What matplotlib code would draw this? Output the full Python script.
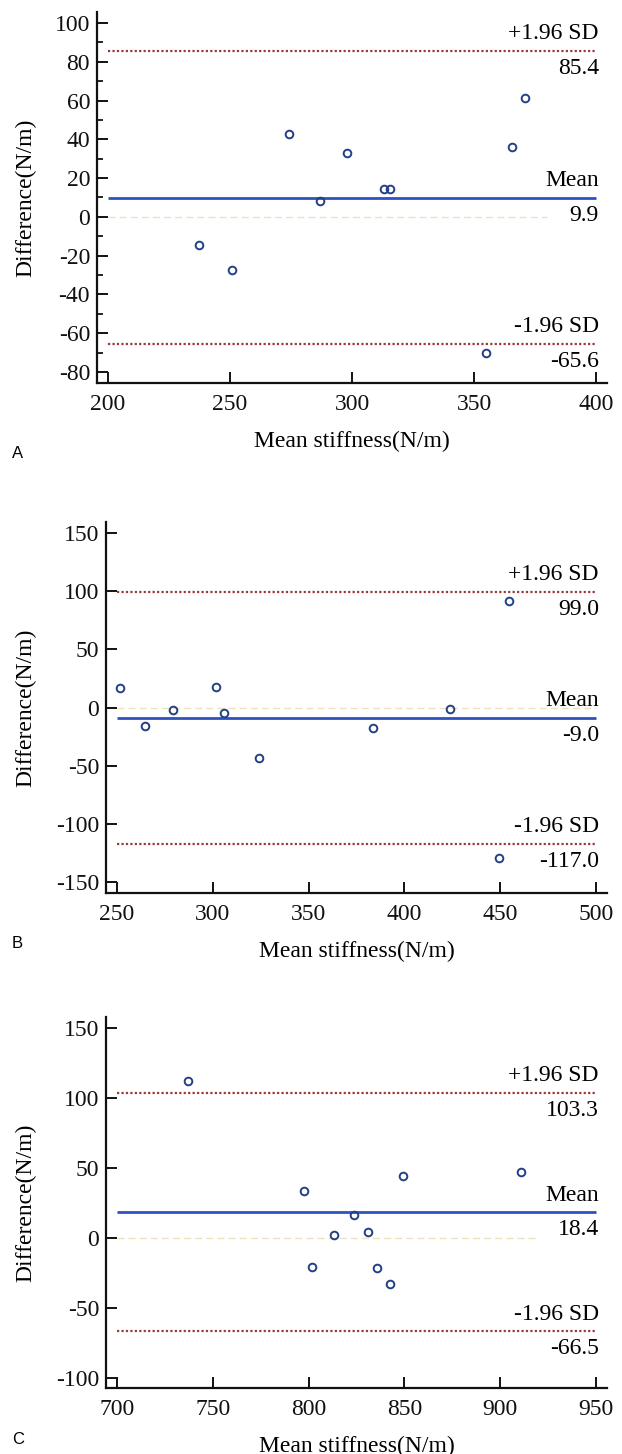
import matplotlib.pyplot as plt
import numpy as np

# panel A
a_mean_x = [237.1, 250.9, 274.1, 286.7, 298.0, 313.3, 315.4, 355.0, 365.5, 371.1]
a_diff = [-14.6, -27.2, 42.9, 8.1, 33.1, 14.6, 14.6, -70.1, 36.2, 61.3]
a_stats = [85.4, 9.9, -65.6]
a_xticks = [200, 250, 300, 350, 400]
a_yticks = [-80, -60, -40, -20, 0, 20, 40, 60, 80, 100]

# panel B
b_mean_x = [251.7, 264.9, 279.3, 301.9, 305.8, 323.9, 383.4, 423.9, 454.4, 449.4]
b_diff = [16.9, -15.8, -2.0, 17.8, -4.9, -43.0, -17.5, -1.4, 91.8, -129.3]
b_stats = [99.0, -9.0, -117.0]
b_xticks = [250, 300, 350, 400, 450, 500]
b_yticks = [-150, -100, -50, 0, 50, 100, 150]

# panel C
c_mean_x = [737.1, 797.7, 801.7, 813.3, 823.9, 830.9, 835.5, 842.7, 849.2, 910.6]
c_diff = [112.4, 34.0, -20.8, 2.5, 16.5, 4.8, -21.2, -32.6, 44.2, 47.0]
c_stats = [103.3, 18.4, -66.5]
c_xticks = [700, 750, 800, 850, 900, 950]
c_yticks = [-100, -50, 0, 50, 100, 150]

panels = [
    ("A", a_mean_x, a_diff, a_stats, a_xticks, a_yticks, 380, (195.5, 404.5), (-85.7, 105.7), 10),
    ("B", b_mean_x, b_diff, b_stats, b_xticks, b_yticks, 500, (244.3, 505.7), (-159.5, 159.5), None),
    ("C", c_mean_x, c_diff, c_stats, c_xticks, c_yticks, 920, (694.3, 955.7), (-106.8, 157.8), None),
]

# axes boxes in pixels: left, top, bottom, letter y
boxes = [(97, 12, 383, 453), (106, 522, 893, 943), (106, 1017, 1388, 1440)]

W, H = 622, 1454
plt.rcParams['font.family'] = ['Liberation Serif']
plt.rcParams['axes.unicode_minus'] = False
fig = plt.figure(figsize=(W / 100, H / 100), dpi=100)

fs = 17

for (letter, x, d, stats, xt, yt, zero_end, xlim, ylim, minor), (l, t, b, ly) in zip(panels, boxes):
    ax = fig.add_axes([l / W, 1 - b / H, (607 - l) / W, (b - t) / H])
    upper, mean, lower = stats

    ax.hlines(0, xt[0], zero_end, colors="#ece3bd", linestyles=(0, (5, 3)), linewidth=1.0, zorder=1)
    ax.hlines([upper, lower], xt[0], xt[-1], colors="#9a3b3b", linestyles=(0, (1, 1)), linewidth=1.6, zorder=2)
    ax.hlines(mean, xt[0], xt[-1], colors="#2f52c0", linewidth=2.0, zorder=2)

    ax.plot(x, d, "o", markerfacecolor="none", markeredgecolor="#22408a",
            markersize=5.5, markeredgewidth=1.4, zorder=3)

    for val, name in [(upper, "+1.96 SD"), (mean, "Mean"), (lower, "-1.96 SD")]:
        ax.annotate(name, (xt[-1], val), xytext=(2, 5), textcoords="offset points",
                    ha="right", va="bottom", fontsize=fs)
        ax.annotate("%.1f" % val, (xt[-1], val), xytext=(2, -5), textcoords="offset points",
                    ha="right", va="top", fontsize=fs)

    ax.set_xlim(*xlim)
    ax.set_ylim(*ylim)
    ax.set_xticks(xt)
    ax.set_yticks(yt)
    if minor:
        ax.set_yticks(np.arange(yt[0], yt[-1] + 1, minor), minor=True)
    ax.tick_params(direction="in", length=8, width=1.4, labelsize=fs, colors="#111111")
    ax.tick_params(axis="y", pad=5)
    ax.tick_params(axis="x", pad=8)
    ax.tick_params(which="minor", direction="in", length=4, width=1.2)

    for s in ["top", "right"]:
        ax.spines[s].set_visible(False)
    for s in ["left", "bottom"]:
        ax.spines[s].set_linewidth(1.6)
        ax.spines[s].set_color("#111111")

    ax.set_xlabel("Mean stiffness(N/m)", fontsize=fs, labelpad=11)
    ax.set_ylabel("Difference(N/m)", fontsize=fs)
    # right edge of the rotated label sits near x=36 px
    ax.yaxis.set_label_coords((36 - l) / (607 - l), 0.5)

    fig.text(12 / W, 1 - ly / H, letter, fontsize=12, family="Liberation Sans", va="center")

fig.savefig("out.png", dpi=100)
